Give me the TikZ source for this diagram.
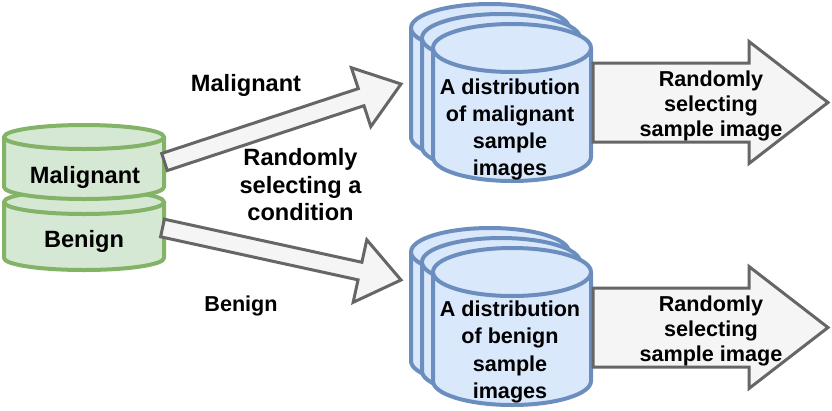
\documentclass[tikz,border=0pt]{standalone}
\usepackage{fontspec}
\setmainfont{Liberation Sans}
\usetikzlibrary{calc}
\definecolor{gfill}{HTML}{D5E8D4}
\definecolor{gline}{HTML}{82B366}
\definecolor{bfill}{HTML}{DAE8FC}
\definecolor{bline}{HTML}{6C8EBF}
\definecolor{afill}{HTML}{F5F5F5}
\definecolor{aline}{HTML}{666666}
% #1 x, #2 top, #3 width, #4 height, #5 ry, #6 style
\newcommand{\cylshape}[6]{%
  \pgfmathsetmacro\cylhalf{#3/2}%
  \filldraw[#6] (#1,#2+#5) -- (#1,#2+#4-#5)
    arc[start angle=180,end angle=360,x radius=\cylhalf pt,y radius=#5pt]
    -- (#1+#3,#2+#5)
    arc[start angle=0,end angle=180,x radius=\cylhalf pt,y radius=#5pt] -- cycle;
  \draw[#6] (#1,#2+#5) arc[start angle=180,end angle=360,x radius=\cylhalf pt,y radius=#5pt];
}
% #1 start, #2 end, #3 half shaft, #4 half head, #5 head length
\newcommand{\blockarrow}[5]{%
  \coordinate (ba-b) at ($(#2)!#5pt!(#1)$);
  \filldraw[arrowstyle] ($(#1)!#3pt!90:(#2)$) -- ($(ba-b)!#3pt!90:(#2)$)
    -- ($(ba-b)!#4pt!90:(#2)$) -- (#2) -- ($(ba-b)!#4pt!-90:(#2)$)
    -- ($(ba-b)!#3pt!-90:(#2)$) -- ($(#1)!#3pt!-90:(#2)$) -- cycle;
}
\begin{document}
\begin{tikzpicture}[x=1pt,y=-1pt,
  greencyl/.style={fill=gfill,draw=gline,line width=4pt},
  bluecyl/.style={fill=bfill,draw=bline,line width=4pt},
  arrowstyle/.style={fill=afill,draw=aline,line width=3pt,line join=miter},
  lblA/.style={font=\bfseries\fontsize{23.6}{27.7}\selectfont,align=center,inner sep=0pt},
  lblB/.style={font=\bfseries\fontsize{21.6}{27.2}\selectfont,align=center,inner sep=0pt},
  lblC/.style={font=\bfseries\fontsize{21.6}{25.3}\selectfont,align=center,inner sep=0pt}]
\useasboundingbox (0,0) rectangle (832,410);
% left cylinders
\cylshape{4}{190}{160}{80}{12}{greencyl}
\cylshape{4}{125}{160}{74}{12}{greencyl}
% top stack
\cylshape{411}{4}{158}{157}{24}{bluecyl}
\cylshape{422}{14}{158}{157}{24}{bluecyl}
\cylshape{433}{24}{158}{157}{24}{bluecyl}
% bottom stack
\cylshape{411}{228}{158}{157}{24}{bluecyl}
\cylshape{422}{238}{158}{157}{24}{bluecyl}
\cylshape{433}{248}{158}{157}{24}{bluecyl}
% text nodes
\node[lblA,anchor=base] (mal) at (85,183) {Malignant};
\node[lblA,anchor=base] (ben) at (84,247) {Benign};
\node[lblB] (dmal) at (510,129.4) {A distribution\\of malignant\\sample\\images};
\node[lblB] (dben) at (510,351.9) {A distribution\\of benign\\sample\\images};
% arrows
\coordinate (a1s) at (164.5,162);
\coordinate (a1e) at (401,84);
\coordinate (a2s) at (162.5,228);
\coordinate (a2e) at (401,280);
\blockarrow{a1s}{a1e}{9}{31}{42}
\blockarrow{a2s}{a2e}{9}{32}{42}
\coordinate (r1s) at (593,102.5);
\coordinate (r1e) at (828,102.5);
\coordinate (r2s) at (593,327.5);
\coordinate (r2e) at (828,327.5);
\blockarrow{r1s}{r1e}{39.5}{61}{79}
\blockarrow{r2s}{r2e}{39.5}{61}{79}
% labels
\node[lblA,anchor=base] (lmal) at (246,91.7) {Malignant};
\node[lblA] (lcond) at (300.5,184.8) {Randomly\\selecting a\\condition};
\node[lblB,anchor=base] (lben) at (241,311.7) {Benign};
\node[lblC] (sel1) at (711,105.8) {Randomly\\selecting\\sample image};
\node[lblC] (sel2) at (711,330.8) {Randomly\\selecting\\sample image};
\end{tikzpicture}
\end{document}
